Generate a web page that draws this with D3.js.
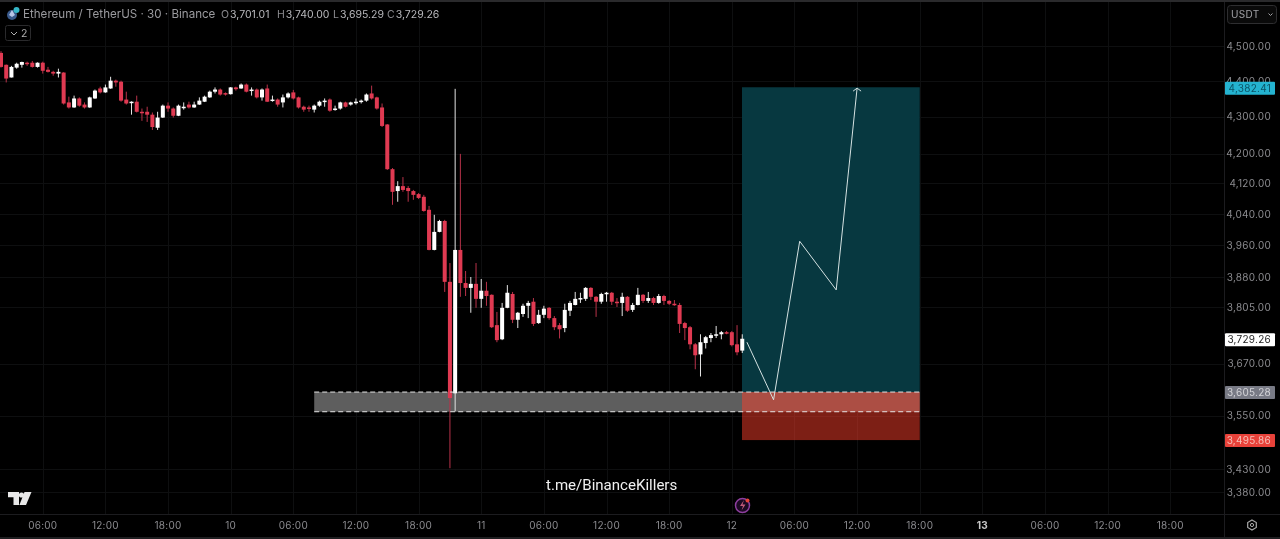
<!DOCTYPE html>
<html><head><meta charset="utf-8">
<script src="https://cdn.jsdelivr.net/npm/d3@7"></script>
<style>html,body{margin:0;padding:0;background:#000;overflow:hidden}svg{display:block;font-family:Inter,Roboto,sans-serif;filter:blur(.4px)}</style>
</head><body><svg id="c" width="1280" height="539"></svg>
<script>
const opens=[4480,4446,4410,4438,4446,4452,4452,4440,4452,4432,4426,4421,4424,4340,4326,4351,4334,4326,4351,4379,4368,4379,4401,4398,4348,4340,4342,4314,4314,4306,4270,4298,4331,4323,4303,4326,4334,4326,4334,4342,4354,4370,4376,4366,4363,4382,4379,4390,4373,4376,4354,4379,4344,4348,4340,4354,4368,4354,4328,4326,4320,4331,4342,4348,4320,4323,4340,4334,4340,4342,4345,4365,4354,4326,4279,4158,4100,4113,4108,4100,4092,4085,4051,3948,3994,4022,3868,3601,3948,3865,3853,3863,3826,3846,3836,3762,3728,3804,3838,3775,3789,3809,3819,3767,3787,3804,3779,3762,3755,3797,3811,3826,3826,3853,3831,3819,3838,3841,3819,3816,3831,3799,3811,3836,3821,3828,3816,3833,3821,3814,3811,3767,3757,3716,3692,3719,3731,3738,3740,3745,3745,3716,3701.01];
const highs=[4485,4447,4443,4452,4455,4455,4457,4453,4455,4440,4429,4435,4425,4356,4359,4354,4340,4356,4376,4384,4390,4412,4404,4401,4370,4343,4359,4323,4328,4312,4314,4334,4340,4326,4334,4340,4342,4342,4354,4359,4373,4382,4379,4368,4383,4384,4393,4393,4382,4379,4379,4390,4359,4351,4362,4368,4375,4356,4331,4331,4334,4345,4351,4351,4331,4342,4342,4342,4351,4348,4365,4387,4356,4337,4280,4161,4126,4137,4113,4103,4095,4090,4061,4038,4025,4025,3915,4378,4199,3895,3880,3915,3875,3868,3837,3794,3816,3860,3843,3794,3814,3821,3828,3799,3809,3806,3784,3767,3814,3821,3843,3841,3855,3855,3833,3841,3843,3843,3828,3841,3833,3816,3853,3838,3843,3831,3838,3836,3823,3823,3816,3770,3760,3719,3740,3736,3743,3760,3748,3748,3748,3762,3740];
const lows=[4438,4396,4410,4435,4438,4443,4438,4438,4421,4424,4415,4410,4334,4323,4325,4328,4323,4325,4350,4365,4367,4378,4384,4342,4334,4306,4312,4289,4286,4264,4264,4297,4314,4298,4302,4320,4323,4325,4333,4341,4353,4365,4359,4359,4362,4373,4378,4368,4359,4351,4345,4341,4342,4328,4326,4351,4348,4323,4314,4314,4312,4328,4328,4314,4317,4320,4326,4331,4334,4337,4342,4348,4320,4272,4156,4064,4072,4098,4072,4077,4079,4046,3947,3947,3993,3843,3432,3560,3831,3833,3792,3804,3804,3809,3755,3721,3726,3803,3767,3755,3782,3779,3760,3765,3779,3775,3750,3730,3745,3784,3810,3816,3821,3823,3782,3814,3819,3811,3806,3784,3794,3794,3810,3816,3816,3811,3814,3811,3811,3809,3743,3726,3704,3657,3640,3706,3721,3731,3728,3740,3711,3690,3695.29];
const closes=[4440,4407,4440,4449,4454,4449,4440,4452,4429,4426,4421,4426,4337,4326,4351,4331,4326,4354,4373,4368,4382,4401,4396,4345,4337,4342,4314,4312,4306,4272,4298,4331,4323,4303,4331,4328,4326,4334,4345,4356,4370,4376,4362,4363,4382,4377,4390,4370,4376,4354,4376,4342,4348,4334,4354,4365,4351,4326,4320,4323,4331,4342,4345,4317,4323,4340,4328,4340,4342,4345,4362,4351,4323,4275,4158,4098,4113,4103,4100,4090,4082,4048,3948,3994,4022,3868,3590,3948,3865,3853,3863,3826,3846,3833,3757,3726,3804,3841,3775,3792,3809,3816,3765,3787,3802,3779,3757,3752,3799,3816,3826,3828,3853,3831,3819,3838,3841,3819,3816,3831,3797,3811,3836,3821,3828,3816,3833,3821,3814,3811,3765,3755,3716,3690,3721,3733,3738,3740,3745,3743,3714,3697,3729.26];

const priceTicks=[4500,4400,4300,4200,4120,4040,3960,3880,3805,3670,3550,3430,3380];
const timeTickBars=[8,20,32,44,56,68,80,92,104,116,128,140,152,164,176,188,200,212,224];
const timeTickLabels=["06:00","12:00","18:00","10","06:00","12:00","18:00","11","06:00","12:00","18:00","12","06:00","12:00","18:00","13","06:00","12:00","18:00"];

const targetPrice=4382.41, entryPrice=3605.28, stopPrice=3495.86, lastPrice=3729.26, zoneLow=3560;
const positionBars=[141.95,176], zoneBars=[60,176];
const pathBars=[142.9,148,153,160,164];
const pathPrices=[3721,3586,3970,3848,4380];

const priceLabels=[["4,382.41",targetPrice,"#24b3d0","#0b5366"],["3,729.26",lastPrice,"#ffffff","#222222"],["3,605.28",entryPrice,"#787a85","#d4d4d8"],["3,495.86",stopPrice,"#e8423a","#f5c0b8"]];

const svg=d3.select("#c");
const x=d3.scaleLinear().domain([0,224]).range([1,1170.3]);
const y=d3.scaleLog().domain([4500,3380]).range([46,492]);
const W=1224,B=514;
const RED="#e03a52",WHITE="#ffffff";

svg.append("rect").attr("width",1280).attr("height",539).attr("fill","#000");

// grid
const grid=svg.append("g").attr("stroke","#0e0f10").attr("stroke-width",1);
grid.selectAll("line.h").data(priceTicks).join("line").attr("x1",0).attr("x2",W)
  .attr("y1",d=>Math.round(y(d))+.5).attr("y2",d=>Math.round(y(d))+.5);
grid.selectAll("line.v").data(timeTickBars).join("line").attr("y1",2).attr("y2",B)
  .attr("x1",d=>Math.round(x(d))+.5).attr("x2",d=>Math.round(x(d))+.5);

// position + zone
svg.append("rect").attr("x",x(positionBars[0])).attr("width",x(positionBars[1])-x(positionBars[0]))
  .attr("y",y(targetPrice)).attr("height",y(entryPrice)-y(targetPrice)+.6).attr("fill","#073840");
svg.append("rect").attr("x",x(zoneBars[0])).attr("width",x(zoneBars[1])-x(zoneBars[0]))
  .attr("y",y(entryPrice)+.6).attr("height",y(zoneLow)-y(entryPrice)).attr("fill","#5e5e5e");
svg.append("rect").attr("x",x(positionBars[0])).attr("width",x(positionBars[1])-x(positionBars[0]))
  .attr("y",y(entryPrice)+.6).attr("height",y(stopPrice)-y(entryPrice)).attr("fill","#fa3e2a").attr("fill-opacity",.5);

// candles
const cs=opens.map((o,i)=>({i,o,h:highs[i],l:lows[i],c:closes[i]}));
svg.append("g").selectAll("line").data(cs).join("line")
  .attr("x1",d=>x(d.i)).attr("x2",d=>x(d.i)).attr("y1",d=>y(d.h)).attr("y2",d=>y(d.l))
  .attr("stroke",d=>d.c>=d.o?"#e4e4e4":"#b83249").attr("stroke-width",1);
svg.append("g").selectAll("rect").data(cs).join("rect")
  .attr("x",d=>x(d.i)-2).attr("width",4)
  .attr("y",d=>y(Math.max(d.o,d.c))).attr("height",d=>Math.max(1.5,Math.abs(y(d.o)-y(d.c))))
  .attr("fill",d=>d.c>=d.o?WHITE:RED);

// zone dashes
const zd=svg.append("g").attr("stroke","#e6e6e6").attr("stroke-width",1).attr("stroke-dasharray","5 3");
[entryPrice,zoneLow].forEach(p=>zd.append("line").attr("x1",x(zoneBars[0])).attr("x2",x(zoneBars[1])).attr("y1",y(p)+.6).attr("y2",y(p)+.6));

// path
const pts=pathBars.map((b,i)=>[x(b),y(pathPrices[i])]);
svg.append("path").attr("d",d3.line()(pts)).attr("fill","none").attr("stroke","#d5e2e2").attr("stroke-width",1);
const tip=pts[pts.length-1];
svg.append("path").attr("d",d3.line()([[tip[0]-4,tip[1]+3],tip,[tip[0]+4,tip[1]+3]])).attr("fill","none").attr("stroke","#d5e2e2").attr("stroke-width",1);

// frame
const fr=svg.append("g").attr("stroke","#1c1c1f").attr("stroke-width",1);
fr.append("line").attr("x1",W+.5).attr("x2",W+.5).attr("y1",2).attr("y2",537);
fr.append("line").attr("x1",0).attr("x2",1280).attr("y1",B+.5).attr("y2",B+.5);
svg.append("rect").attr("width",1280).attr("height",2).attr("fill","#2a2a2c");
svg.append("rect").attr("y",537).attr("width",1280).attr("height",2).attr("fill","#1e1e20");

// axes
const fmt=d3.format(",.2f");
const yAxis=svg.append("g");
yAxis.selectAll("text").data(priceTicks).join("text").attr("x",1271).attr("y",d=>y(d)+3.5)
  .attr("text-anchor","end").attr("font-size",10).attr("fill","#8b8b8f").attr("letter-spacing",".25").text(d=>fmt(d));
const xAxis=svg.append("g");
xAxis.selectAll("text").data(timeTickBars).join("text").attr("x",d=>x(d)).attr("y",529)
  .attr("text-anchor","middle").attr("font-size",10).attr("fill",(d,i)=>timeTickLabels[i]==="13"?"#c8c8c8":"#8b8b8f")
  .attr("font-weight",(d,i)=>timeTickLabels[i]==="13"?700:400).attr("letter-spacing",".25").text((d,i)=>timeTickLabels[i]);

// price badges
priceLabels.forEach(([t,p,bg,fg])=>{
  const cy=y(p)+1;
  svg.append("rect").attr("x",1225).attr("y",cy-6.5).attr("width",50).attr("height",13).attr("rx",1).attr("fill",bg);
  svg.append("text").attr("x",1271).attr("y",cy+3.5).attr("text-anchor","end").attr("font-size",10).attr("letter-spacing",".25").attr("fill",fg).text(t);
});

// currency button
svg.append("rect").attr("x",1227.5).attr("y",5.5).attr("width",49).attr("height",18).attr("rx",3).attr("fill","#0a0a0a").attr("stroke","#2e2e30");
svg.append("text").attr("x",1231).attr("y",18).attr("font-size",10).attr("fill","#a2a2a6").attr("letter-spacing",".3").text("USDT");
svg.append("path").attr("d","M1268.5 13.5l2 2 2-2").attr("fill","none").attr("stroke","#a2a2a6");

// legend header
svg.append("circle").attr("cx",12).attr("cy",15).attr("r",5).attr("fill","#3a5a8c");
svg.append("path").attr("d","M12 10l3 5-3 2-3-2z").attr("fill","#b9c6e6");
svg.append("circle").attr("cx",16.5).attr("cy",10).attr("r",3).attr("fill","#35b6c6");
svg.append("text").attr("x",23).attr("y",18).attr("font-size",11.6).attr("fill","#9a9a9e").text("Ethereum / TetherUS · 30 · Binance");
[["O","3,701.01",221],["H","3,740.00",277],["L","3,695.29",333],["C","3,729.26",387]].forEach(([k,v,px])=>{
  const t=svg.append("text").attr("x",px).attr("y",18).attr("font-size",10.5).attr("fill","#8b8b8f");
  t.append("tspan").text(k);
  t.append("tspan").attr("fill","#b8b8bc").attr("dx",1).text(v);
});
svg.append("rect").attr("x",5.5).attr("y",25.5).attr("width",25).attr("height",15).attr("rx",2).attr("fill","none").attr("stroke","#2a2a2c");
svg.append("path").attr("d","M11 32l3 3 3-3").attr("fill","none").attr("stroke","#b0b0b0");
svg.append("text").attr("x",21).attr("y",37).attr("font-size",10.5).attr("fill","#b0b0b0").text("2");

// logo
const logo=svg.append("g").attr("fill","#e8e8e8");
logo.append("path").attr("d","M8 492h11v13h-5.5v-7.8H8z");
logo.append("circle").attr("cx",21.5).attr("cy",495).attr("r",2.6);
logo.append("path").attr("d","M24.5 492h7l-5.5 13h-6.6z");

// watermark
svg.append("text").attr("x",546).attr("y",490).attr("font-size",15.05).attr("fill","#f0f0f0").attr("font-family","Roboto,sans-serif").text("t.me/BinanceKillers");

// bolt
const bolt=svg.append("g");
bolt.append("circle").attr("cx",742.5).attr("cy",505.5).attr("r",7).attr("fill","#1c0a22").attr("stroke","#8d3e9e").attr("stroke-width",1.5);
bolt.append("path").attr("d","M744 500l-4 6h3l-1.5 4.5 4-6h-3z").attr("fill","#c25a7a");
bolt.append("circle").attr("cx",747.5).attr("cy",500.5).attr("r",2).attr("fill","#e8423a");

// settings
svg.append("path").attr("d","M1252 520l4.3 2.5v5l-4.3 2.5-4.3-2.5v-5z").attr("fill","none").attr("stroke","#a8a8a8").attr("stroke-width",1.2);
svg.append("circle").attr("cx",1252).attr("cy",525).attr("r",1.6).attr("fill","none").attr("stroke","#a8a8a8");
</script></body></html>
